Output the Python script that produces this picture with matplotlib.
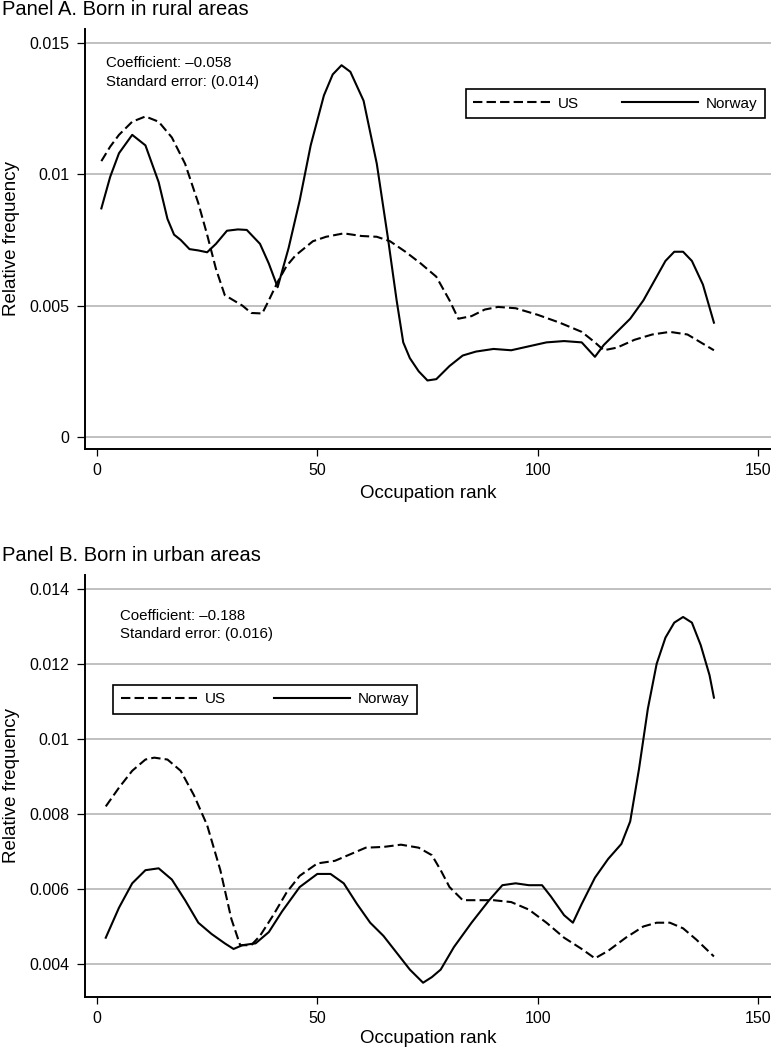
import matplotlib
matplotlib.use("Agg")
import matplotlib.pyplot as plt

plt.rcParams["font.family"] = ["Liberation Sans", "DejaVu Sans"]

# Panel A: born in rural areas
rural_us_x = [1, 3, 5, 8, 11, 14, 17, 20, 23, 25, 27, 29, 31, 33, 35, 37.5, 39, 41, 43, 45,
              49, 52, 56, 60, 63.5, 66.5, 70, 73.5, 77, 80, 82, 85, 88, 91, 95, 100, 105,
              110, 113, 115, 118, 122, 126, 130, 134, 137, 140]
rural_us_y = [0.01050, 0.01105, 0.01150, 0.01200, 0.01220, 0.01200, 0.01140, 0.01040, 0.00890,
              0.00770, 0.00640, 0.00540, 0.00520, 0.00500, 0.00472, 0.00470, 0.00520, 0.00590,
              0.00650, 0.00690, 0.00745, 0.00762, 0.00775, 0.00765, 0.00762, 0.00745, 0.00705,
              0.00660, 0.00610, 0.00520, 0.00450, 0.00460, 0.00485, 0.00495, 0.00490, 0.00465,
              0.00435, 0.00400, 0.00360, 0.00330, 0.00340, 0.00370, 0.00390, 0.00400, 0.00390,
              0.00360, 0.00330]
rural_no_x = [1, 3, 5, 8, 11, 14, 16, 17.5, 19, 21, 23, 25, 27, 29.5, 32, 34, 37, 39, 41,
              43.5, 46, 48.5, 51.5, 53.5, 55.5, 57.5, 60.5, 63.5, 66, 68, 69.5, 71, 73, 75,
              77, 80, 83, 86, 90, 94, 98, 102, 106, 110, 113, 115, 118, 121, 124, 127, 129,
              131, 133, 135, 137.5, 140]
rural_no_y = [0.00870, 0.00990, 0.01080, 0.01150, 0.01110, 0.00970, 0.00830, 0.00770, 0.00750,
              0.00715, 0.00710, 0.00703, 0.00735, 0.00785, 0.00790, 0.00788, 0.00735, 0.00660,
              0.00570, 0.00720, 0.00900, 0.01110, 0.01300, 0.01380, 0.01415, 0.01390, 0.01280,
              0.01040, 0.00760, 0.00520, 0.00360, 0.00300, 0.00250, 0.00215, 0.00220, 0.00270,
              0.00310, 0.00325, 0.00335, 0.00330, 0.00345, 0.00360, 0.00365, 0.00360, 0.00305,
              0.00350, 0.00400, 0.00450, 0.00520, 0.00610, 0.00670, 0.00705, 0.00705, 0.00670,
              0.00580, 0.00435]

# Panel B: born in urban areas
urban_us_x = [2, 5, 8, 11, 13, 16, 19, 22, 25, 28, 30.5, 32.5, 35, 37, 40, 43, 46, 50, 54,
              58, 61, 65, 69, 73, 76, 78, 80, 83, 86, 90, 94, 98, 102, 106, 110, 113, 116,
              120, 124, 127, 130, 133, 136, 140]
urban_us_y = [0.00820, 0.00870, 0.00915, 0.00945, 0.00950, 0.00945, 0.00915, 0.00850, 0.00770,
              0.00650, 0.00520, 0.00450, 0.00450, 0.00475, 0.00530, 0.00590, 0.00635, 0.00668,
              0.00675, 0.00695, 0.00710, 0.00712, 0.00718, 0.00710, 0.00690, 0.00650, 0.00605,
              0.00570, 0.00570, 0.00570, 0.00565, 0.00545, 0.00510, 0.00470, 0.00440, 0.00415,
              0.00435, 0.00470, 0.00500, 0.00510, 0.00510, 0.00495, 0.00465, 0.00420]
urban_no_x = [2, 5, 8, 11, 14, 17, 20, 23, 26, 29, 31, 33, 36, 39, 42, 46, 50, 53, 56, 59,
              62, 65, 68, 71, 74, 76, 78, 81, 85, 89, 92, 95, 98, 101, 103, 106, 108, 110,
              113, 116, 119, 121, 123, 125, 127, 129, 131, 133, 135, 137, 139, 140]
urban_no_y = [0.00470, 0.00550, 0.00615, 0.00650, 0.00655, 0.00625, 0.00570, 0.00510, 0.00480,
              0.00455, 0.00440, 0.00450, 0.00455, 0.00485, 0.00540, 0.00605, 0.00640, 0.00640,
              0.00615, 0.00560, 0.00510, 0.00475, 0.00430, 0.00385, 0.00350, 0.00365, 0.00385,
              0.00445, 0.00510, 0.00570, 0.00610, 0.00615, 0.00610, 0.00610, 0.00580, 0.00530,
              0.00510, 0.00560, 0.00630, 0.00680, 0.00720, 0.00780, 0.00920, 0.01080, 0.01200,
              0.01270, 0.01310, 0.01325, 0.01310, 0.01250, 0.01170, 0.01110]

rural_ticks = [0, 0.005, 0.01, 0.015]
rural_labels = ["0", "0.005", "0.01", "0.015"]
urban_ticks = [0.004, 0.006, 0.008, 0.01, 0.012, 0.014]
urban_labels = ["0.004", "0.006", "0.008", "0.01", "0.012", "0.014"]
x_ticks = [0, 50, 100, 150]

fig = plt.figure(figsize=(7.71, 10.5), dpi=100)
ax_a = fig.add_axes([0.1102, 0.5724, 0.8898, 0.4])
ax_b = fig.add_axes([0.1102, 0.0505, 0.8898, 0.4019])


def style(ax, xs_us, ys_us, xs_no, ys_no, ticks, labels, ylim):
    ax.plot(xs_us, ys_us, color="black", lw=1.5, ls=(0, (4.5, 2)), label="US")
    ax.plot(xs_no, ys_no, color="black", lw=1.5, label="Norway")
    ax.set_xlim(-2.72, 152.95)
    ax.set_ylim(*ylim)
    ax.set_xticks(x_ticks)
    ax.set_yticks(ticks)
    ax.set_yticklabels(labels)
    ax.grid(axis="y", color="#b5b5b5", lw=1.2)
    ax.set_axisbelow(True)
    for s in ["top", "right"]:
        ax.spines[s].set_visible(False)
    for s in ["left", "bottom"]:
        ax.spines[s].set_linewidth(1.4)
    ax.tick_params(axis="y", length=6, width=0.9, pad=5, labelsize=11.5)
    ax.tick_params(axis="x", length=5, width=0.9, pad=5, labelsize=11.5)
    ax.set_xlabel("Occupation rank", fontsize=13.5)
    ax.set_ylabel("Relative frequency", fontsize=13.5)
    ax.yaxis.set_label_coords(-0.095, 0.5)


style(ax_a, rural_us_x, rural_us_y, rural_no_x, rural_no_y,
      rural_ticks, rural_labels, (-0.000458, 0.01553))
ax_a.xaxis.set_label_coords(0.5, -0.086)
style(ax_b, urban_us_x, urban_us_y, urban_no_x, urban_no_y,
      urban_ticks, urban_labels, (0.00312, 0.01437))
ax_b.xaxis.set_label_coords(0.5, -0.078)

ax_a.text(0.0306, 0.919, "Coefficient: \u20130.058", transform=ax_a.transAxes,
          fontsize=10.8, va="center", ha="left")
ax_a.text(0.0306, 0.874, "Standard error: (0.014)", transform=ax_a.transAxes,
          fontsize=10.8, va="center", ha="left")
ax_b.text(0.051, 0.903, "Coefficient: \u20130.188", transform=ax_b.transAxes,
          fontsize=10.8, va="center", ha="left")
ax_b.text(0.051, 0.860, "Standard error: (0.016)", transform=ax_b.transAxes,
          fontsize=10.8, va="center", ha="left")

for ax, box in [(ax_a, (0.555, 0.783, 0.436, 0.079)), (ax_b, (0.041, 0.666, 0.443, 0.078))]:
    leg = ax.legend(loc="center", bbox_to_anchor=box, ncol=2, mode="expand",
                    fontsize=11, handlelength=5, frameon=True, fancybox=False,
                    framealpha=1, edgecolor="black", borderaxespad=0, borderpad=0.5,
                    handletextpad=0.5)
    leg.get_frame().set_linewidth(1.2)

fig.text(0.002, 0.991, "Panel A. Born in rural areas", fontsize=14.5, va="center", ha="left")
fig.text(0.002, 0.4714, "Panel B. Born in urban areas", fontsize=14.5, va="center", ha="left")

fig.savefig("out.png", dpi=100)
